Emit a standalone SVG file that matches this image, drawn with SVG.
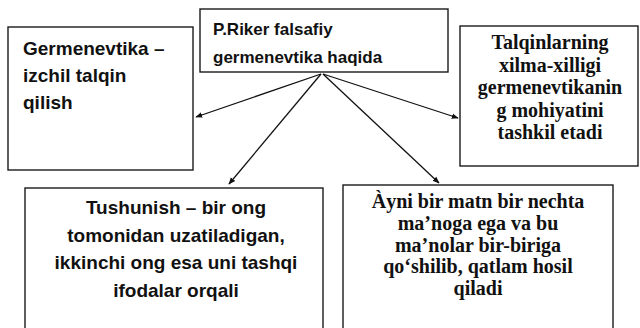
<svg xmlns="http://www.w3.org/2000/svg" width="640" height="328" viewBox="0 0 640 328">
<defs>
<style>
.box{fill:#fff;stroke:#1a1a1a;stroke-width:1.4}
.sans{font-family:"Liberation Sans",Arial,sans-serif;font-weight:bold;fill:#111}
.serif{font-family:"Liberation Serif","Times New Roman",serif;font-weight:bold;fill:#111}
.conn{stroke:#111;stroke-width:1.3;fill:none;marker-end:url(#ah)}
</style>
<marker id="ah" viewBox="0 0 10 10" refX="9" refY="5" markerWidth="7" markerHeight="7" markerUnits="userSpaceOnUse" orient="auto">
<path d="M0,1 L10,5 L0,9 Z" fill="#111"/>
</marker>
</defs>
<rect width="640" height="328" fill="#fff"/>
<g id="connectors">
<line class="conn" x1="321" y1="74" x2="196" y2="117"/>
<line class="conn" x1="321" y1="74" x2="229" y2="184"/>
<line class="conn" x1="323" y1="74" x2="458" y2="118"/>
<line class="conn" x1="323" y1="74" x2="439" y2="183"/>
</g>
<g id="node-top">
<rect class="box" x="200" y="9" width="248" height="63"/>
<text class="sans" font-size="17" x="213" y="35">P.Riker falsafiy</text>
<text class="sans" font-size="17" x="213" y="63">germenevtika haqida</text>
</g>
<g id="node-left">
<rect class="box" x="8" y="27" width="185" height="143"/>
<text class="sans" font-size="19" x="23" y="55">Germenevtika –</text>
<text class="sans" font-size="19" x="23" y="82">izchil talqin</text>
<text class="sans" font-size="19" x="23" y="109">qilish</text>
</g>
<g id="node-right">
<rect class="box" x="460" y="26" width="178" height="140"/>
<g class="serif" font-size="20" text-anchor="middle">
<text x="550" y="49">Talqinlarning</text>
<text x="550" y="71.5">xilma-xilligi</text>
<text x="550" y="94">germenevtikanin</text>
<text x="550" y="116.5">g mohiyatini</text>
<text x="550" y="139">tashkil etadi</text>
</g>
</g>
<g id="node-bottom-left">
<rect class="box" x="25" y="188" width="298" height="150"/>
<g class="sans" font-size="19" text-anchor="middle">
<text x="176" y="214">Tushunish – bir ong</text>
<text x="176" y="242">tomonidan uzatiladigan,</text>
<text x="176" y="269">ikkinchi ong esa uni tashqi</text>
<text x="176" y="297">ifodalar orqali</text>
</g>
</g>
<g id="node-bottom-right">
<rect class="box" x="343" y="185" width="270" height="150"/>
<g class="serif" font-size="20" text-anchor="middle">
<text x="478" y="208">Àyni bir matn bir nechta</text>
<text x="478" y="230">ma’noga ega va bu</text>
<text x="478" y="252">ma’nolar bir-biriga</text>
<text x="478" y="273">qo‘shilib, qatlam hosil</text>
<text x="478" y="295">qiladi</text>
</g>
</g>
</svg>
